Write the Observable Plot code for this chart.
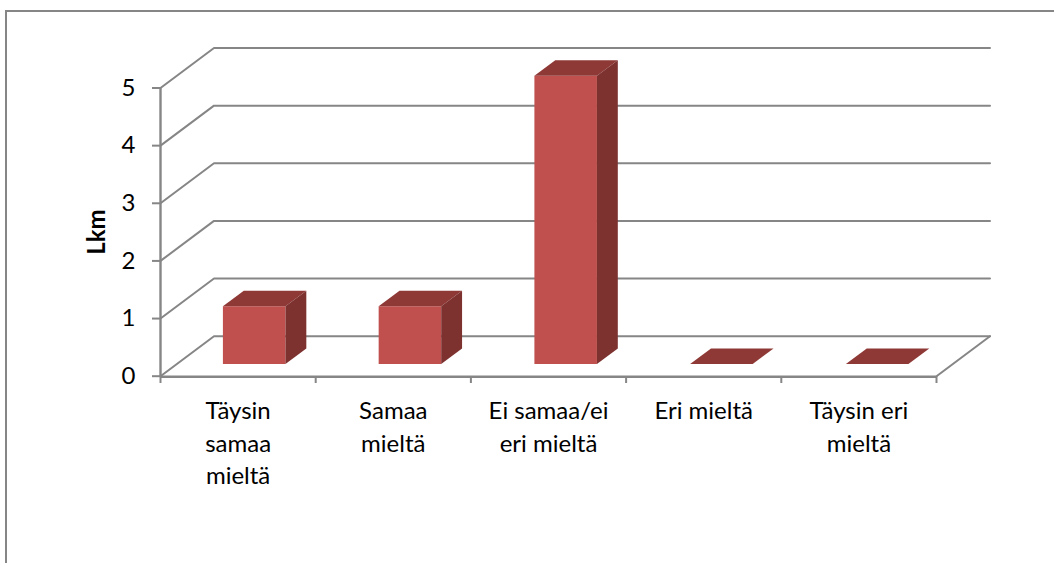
<!DOCTYPE html>
<html>
<head>
<meta charset="utf-8">
<script src="https://cdn.jsdelivr.net/npm/d3@7"></script>
<script src="https://cdn.jsdelivr.net/npm/@observablehq/plot@0.6"></script>
<style>
html,body{margin:0;padding:0;background:#fff;overflow:hidden}
#chart{position:absolute;left:0;top:0;width:1054px;height:563px}
#frame{position:absolute;left:5px;top:10px;right:0;bottom:0;border-top:2px solid #868686;border-left:2px solid #868686}
</style>
</head>
<body>
<div id="frame"></div>
<div id="chart"></div>
<script>
const categories = ["Täysin\nsamaa\nmieltä", "Samaa\nmieltä", "Ei samaa/ei\neri mieltä", "Eri mieltä", "Täysin eri\nmieltä"];
const values = [1, 1, 5, 0, 0];
const yTicks = [0, 1, 2, 3, 4, 5];
const xTicks = [0, 1, 2, 3, 4, 5];

// oblique projection: depth 0 = front of the floor, depth 1 = back wall
const depthX = 53.5 / 155.2;  // category units per unit of depth
const depthY = 40 / 57.64;    // value units per unit of depth
const project = (c, v, d) => ({x: c + d * depthX, y: v + d * depthY});

const barLeft = i => 0.297 + i * 1.0035;
const barWidth = 0.403;
const d0 = 0.305, d1 = 0.695;

const face = (i, corners) => corners.map(([c, v, d]) => ({bar: i, ...project(c, v, d)}));
const front = values.flatMap((v, i) => { const a = barLeft(i), b = a + barWidth;
  return v > 0 ? face(i, [[a, 0, d0], [b, 0, d0], [b, v, d0], [a, v, d0]]) : []; });
const top_ = values.flatMap((v, i) => { const a = barLeft(i), b = a + barWidth;
  return face(i, [[a, v, d0], [b, v, d0], [b, v, d1], [a, v, d1]]); });
const side = values.flatMap((v, i) => { const b = barLeft(i) + barWidth;
  return v > 0 ? face(i, [[b, 0, d0], [b, 0, d1], [b, v, d1], [b, v, d0]]) : []; });

const grid = yTicks.flatMap(t => [
  {t, ...project(0, t, 0)}, {t, ...project(0, t, 1)}, {t, ...project(5, t, 1)}
]);
const floorRight = [project(5, 0, 0), project(5, 0, 1)];
const gray = "#868686";

const plot = Plot.plot({
  width: 1054, height: 563,
  marginLeft: 160, marginRight: 118, marginTop: 0, marginBottom: 187,
  style: {fontFamily: "Lato, sans-serif", background: "transparent", overflow: "visible"},
  x: {domain: [0, 5], range: [160, 936]},
  y: {domain: [0, 5], range: [375.7, 87.5]},
  marks: [
    Plot.line(grid, {x: "x", y: "y", z: "t", stroke: gray, strokeWidth: 2}),
    Plot.line(floorRight, {x: "x", y: "y", stroke: gray, strokeWidth: 2}),
    Plot.ruleX([0], {y1: 0, y2: 5, stroke: gray, strokeWidth: 2.4, dy: 0.5}),
    Plot.ruleY([0], {x1: 0, x2: 5, stroke: gray, strokeWidth: 2.4, dy: 0.5}),
    Plot.axisY({ticks: yTicks, tickSize: 8, tickPadding: 17, fontSize: 24, stroke: gray, strokeWidth: 2, fill: "#000", label: null, tickFormat: d3.format("d")}),
    Plot.axisX({ticks: xTicks, tickSize: 7, stroke: gray, strokeWidth: 2, tickFormat: () => "", label: null}),
    Plot.text(categories, {
      x: (d, i) => i + 0.5, y: () => 0, text: d => d,
      lineAnchor: "top", lineHeight: 1.35, dy: 20, fontSize: 24, fill: "#000"
    }),
    Plot.text(["Lkm"], {
      text: d => d, y: () => 2.5, frameAnchor: "left", textAnchor: "middle", dx: -63, rotate: -90,
      fontWeight: "bold", fontSize: 24, fill: "#000"
    }),
    Plot.line(front, {x: "x", y: "y", z: "bar", fill: "#C0504D", stroke: "none"}),
    Plot.line(top_, {x: "x", y: "y", z: "bar", fill: "#8E3936", stroke: "none"}),
    Plot.line(side, {x: "x", y: "y", z: "bar", fill: "#7E3230", stroke: "none"})
  ]
});
document.getElementById("chart").append(plot);
</script>
</body>
</html>
